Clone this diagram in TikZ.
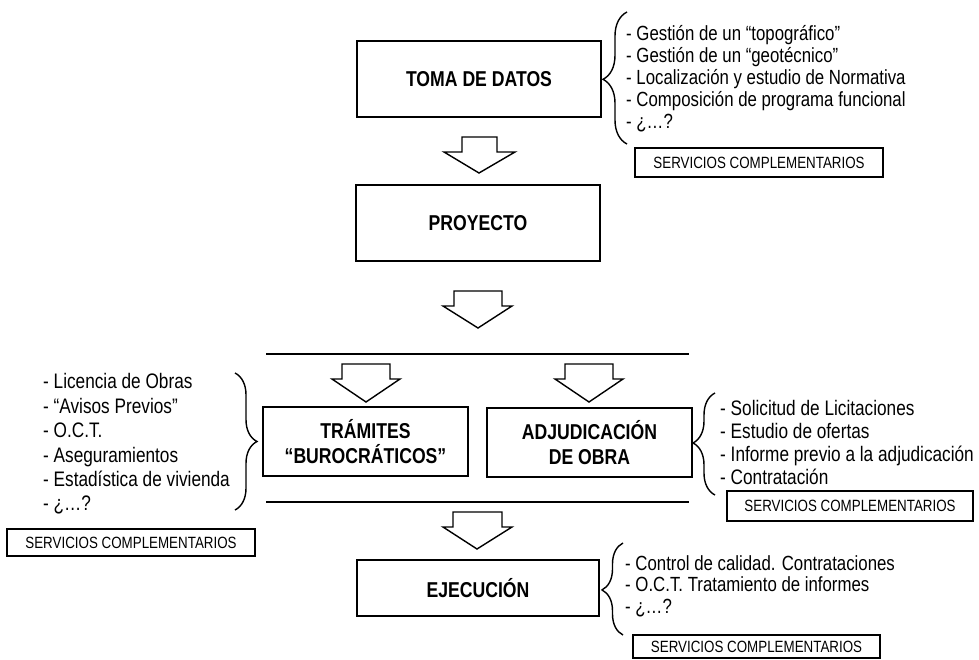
\documentclass[tikz,border=0pt]{standalone}
\usepackage{fontspec}
\setmainfont{Liberation Sans}[FakeStretch=0.82]
\usetikzlibrary{decorations.pathreplacing}
\begin{document}
\begin{tikzpicture}[x=1pt,y=-1pt,
  mainbox/.style={draw, line width=1.6pt, inner sep=0pt, align=center,
    font=\bfseries\fontsize{21.5}{25}\selectfont},
  svcbox/.style={draw, line width=1.3pt, inner sep=0pt,
    font=\fontsize{16.3}{18}\selectfont},
  lst/.style={inner sep=0pt, align=left, anchor=west},
  blk/.style={draw, line width=1.4pt, line join=miter},
  brc/.style={draw, line width=1.4pt, decorate},
  sep/.style={draw, line width=1.6pt}]
\useasboundingbox (0,0) rectangle (979,659);

% main boxes
\node[mainbox, minimum width=244pt, minimum height=76pt] (toma) at (479,79) {TOMA DE DATOS};
\node[mainbox, minimum width=244pt, minimum height=76pt] (proy) at (478,223) {PROYECTO};
\node[mainbox, minimum width=205pt, minimum height=69pt] (tram) at (365.5,441.5) {TRÁMITES\\“BUROCRÁTICOS”};
\node[mainbox, minimum width=205pt, minimum height=69pt] (adj) at (589.5,442.5) {ADJUDICACIÓN\\DE OBRA};
\node[mainbox, minimum width=242pt, minimum height=56pt] (ejec) at (478,588) {EJECUCIÓN};

% block arrows
\draw[blk] (462,137) -- (497,137) -- (497,152) -- (515,152) -- (479,173) -- (444,152) -- (462,152) -- cycle;
\draw[blk] (454,291) -- (502,291) -- (502,306) -- (512,306) -- (478,328) -- (443,306) -- (454,306) -- cycle;
\draw[blk] (342,364) -- (390,364) -- (390,379) -- (400,379) -- (366,402) -- (332,379) -- (342,379) -- cycle;
\draw[blk] (565,364) -- (613,364) -- (613,379) -- (623,379) -- (589,402) -- (555,379) -- (565,379) -- cycle;
\draw[blk] (453,512) -- (502,512) -- (502,527) -- (512,527) -- (477,549) -- (443,527) -- (453,527) -- cycle;

% separator lines
\coordinate (s1a) at (266,354); \coordinate (s1b) at (689,354);
\coordinate (s2a) at (266,502); \coordinate (s2b) at (689,502);
\draw[sep] (s1a) -- (s1b);
\draw[sep] (s2a) -- (s2b);

% braces
\coordinate (b1s) at (627,144); \coordinate (b1e) at (627,12);
\draw[brc, decoration={brace, amplitude=24pt, aspect=0.49}] (b1s) -- (b1e);
\coordinate (b2s) at (235,373); \coordinate (b2e) at (235,510);
\draw[brc, decoration={brace, amplitude=22pt, aspect=0.5}] (b2s) -- (b2e);
\coordinate (b3s) at (715,495); \coordinate (b3e) at (715,393);
\draw[brc, decoration={brace, amplitude=22pt, aspect=0.51}] (b3s) -- (b3e);
\coordinate (b4s) at (623,635); \coordinate (b4e) at (623,543);
\draw[brc, decoration={brace, amplitude=21pt, aspect=0.49}] (b4s) -- (b4e);

% lists
\node[lst, font=\fontsize{20.5}{22}\selectfont] (l1) at (626,79)
  {- Gestión de un “topográfico”\\- Gestión de un “geotécnico”\\- Localización y estudio de Normativa\\- Composición de programa funcional\\- ¿…?};
\node[lst, font=\fontsize{21}{24.4}\selectfont] (l2) at (43,444)
  {- Licencia de Obras\\- “Avisos Previos”\\- O.C.T.\\- Aseguramientos\\- Estadística de vivienda\\- ¿…?};
\node[lst, font=\fontsize{21}{23}\selectfont] (l3) at (720,442)
  {- Solicitud de Licitaciones\\- Estudio de ofertas\\- Informe previo a la adjudicación\\- Contratación};
\node[lst, font=\fontsize{20.5}{21.5}\selectfont] (l4) at (625,586)
  {- Control de calidad. Contrataciones\\- O.C.T. Tratamiento de informes\\- ¿…?};

% services boxes
\node[svcbox, minimum width=248pt, minimum height=29pt] (sv1) at (759,162.5) {SERVICIOS COMPLEMENTARIOS};
\node[svcbox, minimum width=248pt, minimum height=27pt] (sv2) at (131,542.5) {SERVICIOS COMPLEMENTARIOS};
\node[svcbox, minimum width=246pt, minimum height=30pt] (sv3) at (850,506) {SERVICIOS COMPLEMENTARIOS};
\node[svcbox, minimum width=247pt, minimum height=23pt] (sv4) at (756.5,646.5) {SERVICIOS COMPLEMENTARIOS};
\end{tikzpicture}
\end{document}
